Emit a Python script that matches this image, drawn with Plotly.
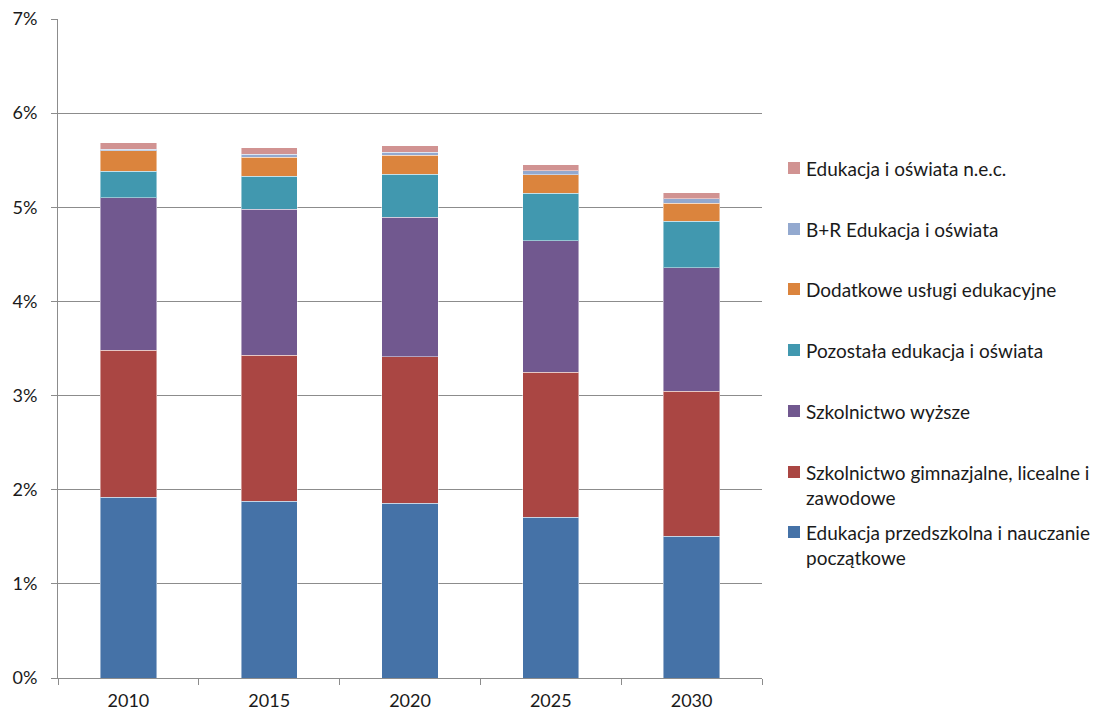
import plotly.graph_objects as go

years = ["2010", "2015", "2020", "2025", "2030"]

# shares of GDP (%), stacked from the bottom up
przedszkolna = [1.92, 1.878, 1.856, 1.707, 1.505]
gimnazjalne = [1.564, 1.553, 1.554, 1.543, 1.543]
wyzsze = [1.617, 1.550, 1.486, 1.394, 1.308]
pozostala = [0.284, 0.347, 0.457, 0.507, 0.497]
dodatkowe = [0.213, 0.206, 0.202, 0.195, 0.192]
bir = [0.021, 0.032, 0.032, 0.042, 0.045]
nec = [0.064, 0.064, 0.067, 0.064, 0.067]

series = [
    ("Edukacja przedszkolna i nauczanie<br>początkowe", przedszkolna, "#4572A7"),
    ("Szkolnictwo gimnazjalne, licealne i<br>zawodowe", gimnazjalne, "#AA4643"),
    ("Szkolnictwo wyższe", wyzsze, "#71588F"),
    ("Pozostała edukacja i oświata", pozostala, "#4198AF"),
    ("Dodatkowe usługi edukacyjne", dodatkowe, "#DB843D"),
    ("B+R Edukacja i oświata", bir, "#93A9CF"),
    ("Edukacja i oświata n.e.c.", nec, "#D19392"),
]

FONT = "Lato"
W, H = 1106, 714
ML, MR, MT, MB = 58, 344, 19, 36
PW, PH = W - ML - MR, H - MT - MB

fig = go.Figure()
for name, vals, color in series:
    fig.add_trace(go.Bar(
        x=years, y=[v / 100 for v in vals], name=name,
        marker=dict(color=color, line=dict(color="rgba(255,255,255,0.45)", width=1)),
        showlegend=False,
    ))

def px_x(px):
    return (px - ML) / PW

def px_y(py):
    return (H - MB - py) / PH

# legend drawn at the right, top entry = last series
legend_rows = [168, 229, 289, 350, 411, 472, 532]
for (name, vals, color), yc in zip(reversed(series), legend_rows):
    fig.add_shape(type="rect", xref="paper", yref="paper",
                  x0=px_x(788), x1=px_x(800), y0=px_y(yc + 6), y1=px_y(yc - 6),
                  fillcolor=color, line=dict(width=0))
    fig.add_annotation(xref="paper", yref="paper", x=px_x(804), y=px_y(yc - 13),
                       xanchor="left", yanchor="top", align="left",
                       text=name, showarrow=False,
                       font=dict(family=FONT, size=19, color="#1a1a1a"))

fig.update_layout(
    width=W, height=H,
    margin=dict(l=ML, r=MR, t=MT, b=MB),
    barmode="stack", bargap=0.6,
    plot_bgcolor="white", paper_bgcolor="white",
    font=dict(family=FONT, size=18, color="#1a1a1a"),
)
fig.update_yaxes(
    range=[0, 0.07], dtick=0.01, tickformat=".0%",
    showgrid=True, gridcolor="#8c8c8c", gridwidth=1,
    showline=True, linecolor="#8c8c8c", linewidth=1,
    ticks="outside", ticklen=6, tickcolor="#8c8c8c",
    ticklabelstandoff=10, zeroline=False, automargin=False,
)
fig.update_xaxes(
    type="category", tickson="boundaries",
    showline=True, linecolor="#8c8c8c", linewidth=1,
    ticks="outside", ticklen=6, tickcolor="#8c8c8c",
    ticklabelstandoff=6, automargin=False,
)

fig.write_html("out.html")
